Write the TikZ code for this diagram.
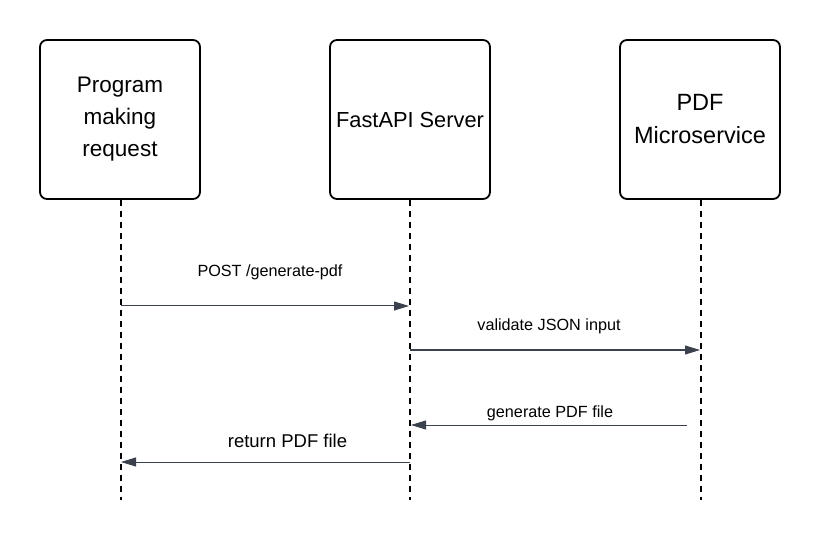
\documentclass[tikz,border=0pt]{standalone}
\usepackage{fontspec}
\setmainfont{Liberation Sans}
\usetikzlibrary{arrows.meta}
\definecolor{arr}{HTML}{3B424D}
\begin{document}
\begin{tikzpicture}[x=1pt,y=-1pt,
  actor/.style={draw=black, line width=1.8pt, rounded corners=7pt, minimum width=160pt, minimum height=159pt, align=center, font=\fontsize{22.5}{32}\selectfont, inner sep=0pt},
  life/.style={draw=black, line width=1.6pt, dash pattern=on 6pt off 5pt},
  msg/.style={draw=arr, line width=1pt, -{Triangle[length=15pt,width=9pt]}},
  lbl/.style={text=black, inner sep=0pt, font=\fontsize{16.2}{19}\selectfont}]
\useasboundingbox (0,0) rectangle (820,540);
\node[actor] (a) at (120,119.5) {Program\\making\\request};
\node[actor, font=\fontsize{21.8}{32}\selectfont] (b) at (410,119.5) {FastAPI Server};
\node[actor, font=\fontsize{23.5}{33}\selectfont] (c) at (700,119.5) {PDF\\Microservice};
\coordinate (ae) at (121,500);
\coordinate (be) at (410,500);
\coordinate (ce) at (701,500);
\draw[life] (a.south -| ae) -- (ae);
\draw[life] (b.south -| be) -- (be);
\draw[life] (c.south -| ce) -- (ce);
\coordinate (p1) at (121,306); \coordinate (p2) at (409,306);
\draw[msg] (p1) -- node[lbl, pos=0.5, yshift=34pt, xshift=5pt] (lp) {POST /generate-pdf} (p2);
\coordinate (v1) at (410,350); \coordinate (v2) at (700,350);
\draw[msg] (v1) -- node[lbl, pos=0.5, yshift=24pt, xshift=-6pt] (lv) {validate JSON input} (v2);
\coordinate (g1) at (687,425); \coordinate (g2) at (411,425);
\draw[msg] (g1) -- node[lbl, pos=0.5, yshift=12pt, xshift=1pt] (lg) {generate PDF file} (g2);
\coordinate (r1) at (410,462); \coordinate (r2) at (121,462);
\draw[msg] (r1) -- node[lbl, pos=0.5, yshift=21pt, xshift=22pt, font=\fontsize{18.5}{21}\selectfont] (lr) {return PDF file} (r2);
\end{tikzpicture}
\end{document}
